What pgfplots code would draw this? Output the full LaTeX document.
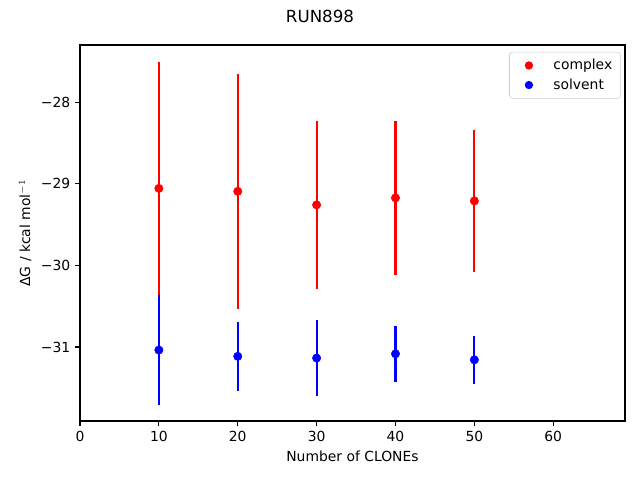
\documentclass[border=0pt]{standalone}
\usepackage{fontspec}
\setmainfont{DejaVu Sans}
\usepackage{pgfplots}
\pgfplotsset{compat=1.18}
\begin{document}
\begin{tikzpicture}
\path[use as bounding box] (-57.6pt,-42.5pt) rectangle (403.2pt,303.1pt);
\node[font=\fontsize{12}{14}\selectfont] at (172.8pt,291.6pt) {RUN898};
\begin{axis}[at={(0,0)}, anchor=south west, scale only axis,
  width=392.4pt, height=270.7pt,
  xmin=0, xmax=69.1, ymin=-31.906, ymax=-27.30,
  xtick={0,10,20,30,40,50,60},
  ytick={-31,-30,-29,-28}, yticklabels={−31,−30,−29,−28},
  /pgf/number format/assume math mode=true,
  ticklabel style={font=\fontsize{10}{12}\selectfont},
  label style={font=\fontsize{10}{12}\selectfont},
  tick align=outside, tick pos=left, major tick length=3.5pt,
  axis line style={line width=0.8pt},
  every tick/.style={black, line width=0.8pt},
  xlabel={Number of CLONEs},
  ylabel={ΔG / kcal mol$^{-1}$},
  legend style={at={(1,1)}, anchor=north east, xshift=-3pt, yshift=-5pt,
    draw=black!20, rounded corners=2pt, font=\fontsize{10}{12}\selectfont,
    inner xsep=4pt, inner ysep=3pt, row sep=1pt},
  legend cell align=left,
]
\addlegendimage{legend image code/.code={\path[draw=none] (0pt,0pt) -- (25.6pt,0pt); \fill[red, draw=none] (10pt,0pt) circle (3pt);}}
\addlegendentry{complex}
\addlegendimage{legend image code/.code={\path[draw=none] (0pt,0pt) -- (25.6pt,0pt); \fill[blue, draw=none] (10pt,0pt) circle (3pt);}}
\addlegendentry{solvent}
\addplot[forget plot, only marks, mark=*, mark size=3pt, color=red, mark options={fill=red, draw=red},
  error bars/.cd, y dir=both, y explicit, error mark=none,
  error bar style={line width=1.5pt, red}]
  coordinates {
  (10,-29.057) +- (0,1.547)
  (20,-29.093) +- (0,1.437)
  (30,-29.259) +- (0,1.027)
  (40,-29.173) +- (0,0.941)
  (50,-29.210) +- (0,0.868)
  };
\addplot[forget plot, only marks, mark=*, mark size=3pt, color=blue, mark options={fill=blue, draw=blue},
  error bars/.cd, y dir=both, y explicit, error mark=none,
  error bar style={line width=1.5pt, blue}]
  coordinates {
  (10,-31.037) +- (0,0.670)
  (20,-31.114) +- (0,0.421)
  (30,-31.135) +- (0,0.465)
  (40,-31.083) +- (0,0.341)
  (50,-31.157) +- (0,0.292)
  };
\end{axis}
\end{tikzpicture}
\end{document}
